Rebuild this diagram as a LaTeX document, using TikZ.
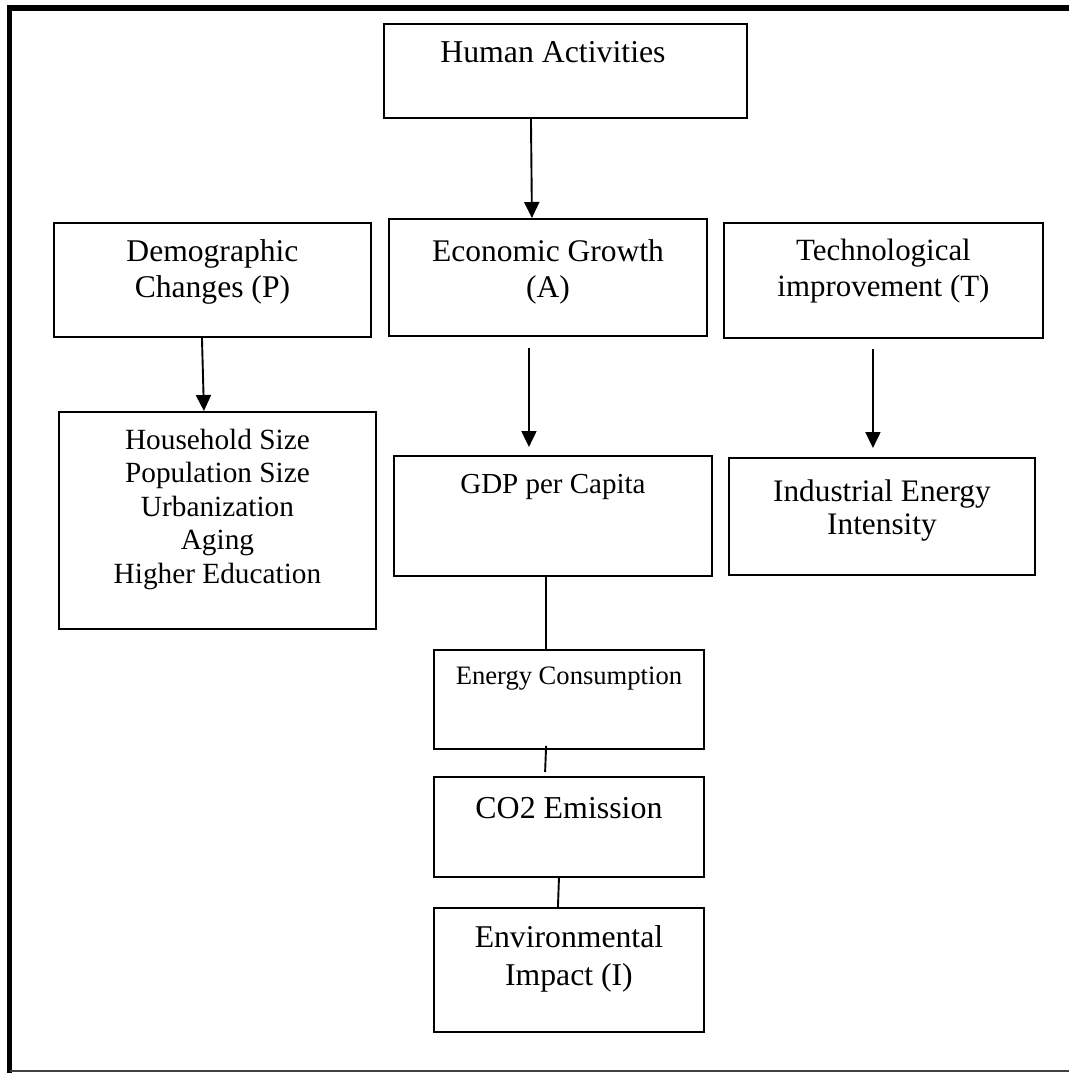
\documentclass[tikz,border=0pt]{standalone}
\usepackage{fontspec}
\setmainfont{Liberation Serif}
\usetikzlibrary{arrows.meta}

\newcommand\boxlines[1]{\begin{tabular}[t]{@{}c@{}}#1\end{tabular}}

\begin{document}
\begin{tikzpicture}[x=1pt,y=-1pt,
        box/.style={draw, line width=1.9pt, inner sep=0pt, anchor=north west},
        txt/.style={inner sep=0pt, anchor=base},
        arr/.style={line width=1.9pt, -{Triangle[length=16pt,width=15pt]}},
        lnk/.style={line width=1.9pt}]
        \useasboundingbox (0,0) rectangle (1069,1073);

        % frame
        \draw[line width=5.5pt] (9.5,1073) -- (9.5,8) -- (1069,8);
        \draw[line width=1.5pt, black!75] (9.5,1071) -- (1069,1071);

        % boxes
        \node[box, minimum width=363pt, minimum height=94pt] (hum) at (383,23) {};
        \node[box, minimum width=317pt, minimum height=114pt] (demo) at (53,222) {};
        \node[box, minimum width=318pt, minimum height=117pt] (econ) at (388,218) {};
        \node[box, minimum width=319pt, minimum height=115pt] (tech) at (723,222) {};
        \node[box, minimum width=317pt, minimum height=217pt] (house) at (58,411) {};
        \node[box, minimum width=318pt, minimum height=120pt] (gdp) at (393,455) {};
        \node[box, minimum width=306pt, minimum height=117pt] (ind) at (728,457) {};
        \node[box, minimum width=270pt, minimum height=99pt] (energy) at (433,649) {};
        \node[box, minimum width=270pt, minimum height=100pt] (co2) at (433,776) {};
        \node[box, minimum width=270pt, minimum height=124pt] (env) at (433,907) {};

        % texts
        \node[txt, font=\fontsize{31.8}{36}\selectfont] (humT) at ([xshift=-12.5pt, yshift=-40pt]hum.north) {Human Activities};
        \node[txt, font=\fontsize{31.6}{36}\selectfont] (demoT) at ([yshift=-39pt]demo.north) {\boxlines{Demographic\\ Changes (P)}};
        \node[txt, font=\fontsize{31.5}{36}\selectfont] (econT) at ([yshift=-43pt]econ.north) {\boxlines{Economic Growth\\ (A)}};
        \node[txt, font=\fontsize{30.9}{36}\selectfont] (techT) at ([yshift=-38pt]tech.north) {\boxlines{Technological\\ improvement (T)}};
        \node[txt, font=\fontsize{29.3}{33.5}\selectfont] (houseT) at ([yshift=-38pt]house.north) {\boxlines{Household Size\\ Population Size\\ Urbanization\\ Aging\\ Higher Education}};
        \node[txt, font=\fontsize{29}{33}\selectfont] (gdpT) at ([yshift=-38pt]gdp.north) {GDP per Capita};
        \node[txt, font=\fontsize{31.3}{33.5}\selectfont] (indT) at ([yshift=-44pt]ind.north) {\boxlines{Industrial Energy\\ Intensity}};
        \node[txt, font=\fontsize{26.6}{31}\selectfont] (energyT) at ([yshift=-35pt]energy.north) {Energy Consumption};
        \node[txt, font=\fontsize{31.9}{36}\selectfont] (co2T) at ([yshift=-42pt]co2.north) {CO2 Emission};
        \node[txt, font=\fontsize{31.7}{38}\selectfont] (envT) at ([yshift=-40pt]env.north) {\boxlines{Environmental\\ Impact (I)}};

        % connectors
        \draw[arr] ([xshift=-34.5pt]hum.south) -- ([xshift=-16pt]econ.north);
        \draw[arr] ([xshift=-10.5pt]demo.south) -- ([xshift=-13.5pt]house.north);
        \draw[arr, shorten <=11pt, shorten >=8pt] ([xshift=-19pt]econ.south) -- ([xshift=-24pt]gdp.north);
        \draw[arr, shorten <=10pt, shorten >=9pt] ([xshift=-10.5pt]tech.south) -- ([xshift=-9pt]ind.north);
        \draw[lnk] ([xshift=-7pt]gdp.south) -- ([xshift=-23pt]energy.north);
        \draw[lnk, shorten <=-4pt, shorten >=4pt] ([xshift=-23pt]energy.south) -- ([xshift=-24pt]co2.north);
        \draw[lnk] ([xshift=-10pt]co2.south) -- ([xshift=-11pt]env.north);
\end{tikzpicture}
\end{document}
